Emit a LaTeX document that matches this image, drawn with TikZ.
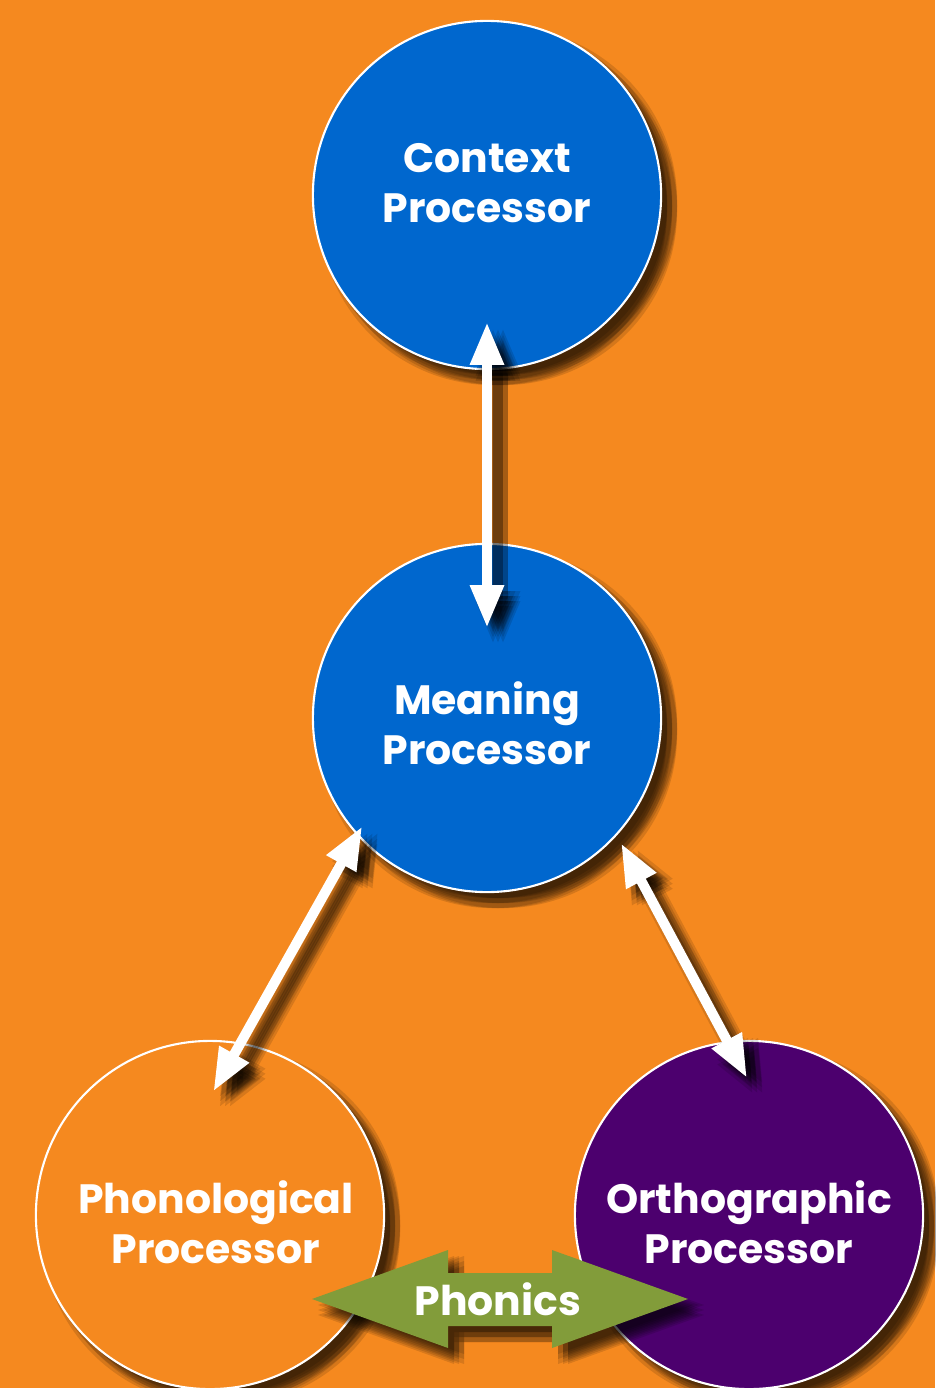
\documentclass[tikz,border=0pt]{standalone}
\usepackage{fontspec}
\setmainfont{Poppins}
\usetikzlibrary{arrows.meta,shadows}
\definecolor{bgorange}{HTML}{F5891F}
\definecolor{procblue}{HTML}{0067CE}
\definecolor{procpurple}{HTML}{4C006E}
\definecolor{phonicsgreen}{HTML}{829C3A}
\tikzset{
  softshadow/.style={
    drop shadow={shadow xshift=0.06cm,shadow yshift=-0.06cm,opacity=0.13,fill=black},
    drop shadow={shadow xshift=0.11cm,shadow yshift=-0.06cm,opacity=0.13,fill=black},
    drop shadow={shadow xshift=0.16cm,shadow yshift=-0.06cm,opacity=0.13,fill=black},
    drop shadow={shadow xshift=0.06cm,shadow yshift=-0.11cm,opacity=0.13,fill=black},
    drop shadow={shadow xshift=0.11cm,shadow yshift=-0.11cm,opacity=0.13,fill=black},
    drop shadow={shadow xshift=0.16cm,shadow yshift=-0.11cm,opacity=0.13,fill=black},
    drop shadow={shadow xshift=0.06cm,shadow yshift=-0.16cm,opacity=0.13,fill=black},
    drop shadow={shadow xshift=0.11cm,shadow yshift=-0.16cm,opacity=0.13,fill=black},
    drop shadow={shadow xshift=0.16cm,shadow yshift=-0.16cm,opacity=0.13,fill=black}},
  proc/.style={circle, minimum size=3.48cm, inner sep=0pt, outer sep=0pt,
    draw=white, line width=0.6pt, softshadow},
  lbl/.style={text=white, font=\bfseries\fontsize{11.65}{14.2}\selectfont, align=center, inner sep=0pt},
  dbl/.style={draw=white, line width=2.85pt,
    {Triangle[length=12.2pt,width=9pt]}-{Triangle[length=12.2pt,width=9pt]}},
}
\newcommand\mylinks[1]{%
  \draw[dbl,#1, shorten <=-0.47cm, shorten >=-0.84cm] (ctx.270) -- (mean.90);
  \draw[dbl,#1, shorten <=-0.094cm, shorten >=-0.55cm] (mean.222) -- (phon.80);
  \draw[dbl,#1, shorten <=0.099cm, shorten >=-0.406cm] (mean.318) -- (orth.97);
}
\newcommand\phonicspath{(312,1299) -- (448,1250) -- (448,1273) -- (552,1273) -- (552,1250) -- (688,1299) -- (552,1348) -- (552,1326) -- (448,1326) -- (448,1348) -- cycle}
\begin{document}
\begin{tikzpicture}[x=0.01cm,y=-0.01cm]
  \useasboundingbox (0,0) rectangle (935,1388);
  \fill[bgorange] (0,0) rectangle (935,1388);
  \node[proc, fill=procblue, label={[lbl, yshift=0.12cm]center:Context\\Processor}] (ctx) at (487,195) {};
  \node[proc, fill=procblue, label={[lbl, yshift=-0.05cm]center:Meaning\\Processor}] (mean) at (487,718) {};
  \node[proc, fill=bgorange, label={[lbl, xshift=0.06cm, yshift=-0.07cm]center:Phonological\\Processor}] (phon) at (210,1215) {};
  \node[proc, fill=procpurple, label={[lbl, yshift=-0.07cm]center:Orthographic\\Processor}] (orth) at (749,1215) {};
  \foreach \sx/\sy in {6/-6,11/-6,16/-6,6/-11,11/-11,16/-11,6/-16,11/-16,16/-16} {
    \mylinks{draw=black, opacity=0.12, transform canvas={xshift=\sx*0.01cm, yshift=\sy*0.01cm}}
    \fill[black, opacity=0.12, transform canvas={xshift=\sx*0.01cm, yshift=\sy*0.01cm}] \phonicspath;
  }
  \mylinks{}
  \fill[phonicsgreen] \phonicspath;
  \node[lbl] (phonics) at (498,1299) {Phonics};
\end{tikzpicture}
\end{document}
